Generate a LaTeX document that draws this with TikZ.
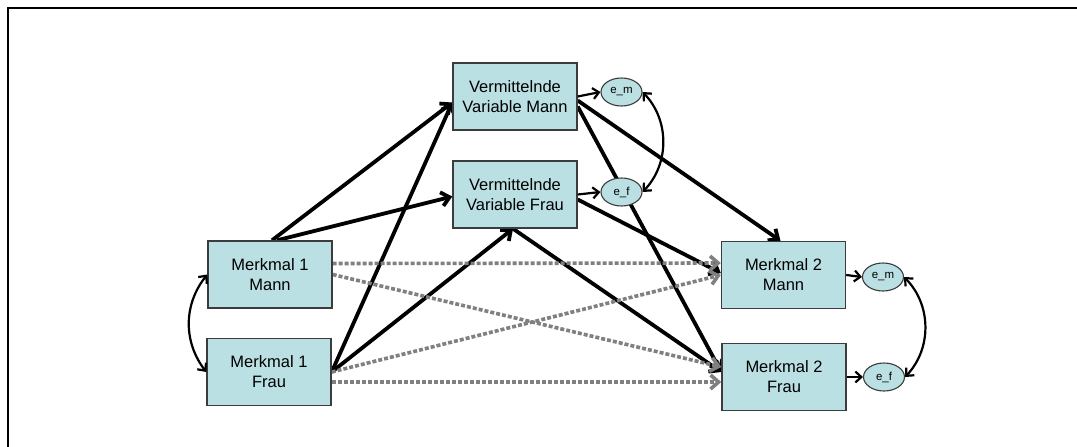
\documentclass[tikz,border=0pt]{standalone}
\usepackage{fontspec}
\setmainfont{Liberation Sans}
\usetikzlibrary{arrows.meta,shapes.geometric,backgrounds}
\definecolor{boxcyan}{RGB}{187,224,227}
\definecolor{boxrand}{RGB}{60,60,60}

\begin{document}
\begin{tikzpicture}[x=1pt,y=-1pt,
    box/.style={draw=boxrand, fill=boxcyan, line width=1.4pt, minimum width=124pt,
      minimum height=67pt, align=center, inner sep=0pt,
      font=\fontsize{16.5}{20}\selectfont},
    err/.style={ellipse, draw=boxrand, fill=boxcyan, line width=1.1pt, minimum width=41pt,
      minimum height=28pt, inner sep=0pt, font=\fontsize{11.5}{13}\selectfont},
    pfad/.style={line width=3.8pt, -{Straight Barb[length=8pt,width=14pt]}},
    grau/.style={line width=3.6pt, black!50, dash pattern=on 4pt off 2pt,
      -{Straight Barb[length=8pt,width=14pt]}},
    kurz/.style={line width=2.2pt, -{Straight Barb[length=6pt,width=11pt]}},
    kov/.style={line width=2.2pt, {Straight Barb[length=6pt,width=11pt]}-{Straight Barb[length=6pt,width=11pt]}}]

    \useasboundingbox (0,0) rectangle (1077,447);

    % Rahmen
    \draw[line width=2pt] (1077,7.5) -- (7.5,7.5) -- (7.5,447);

    % Merkmal 1
    \node[box] (m1m) at (270,274.5) {Merkmal 1\\Mann};
    \node[box] (m1f) at (269,372) {Merkmal 1\\Frau};

    % Vermittelnde Variablen
    \node[box] (vvm) at (515,96.5) {Vermittelnde\\Variable Mann};
    \node[box] (vvf) at (515,194.5) {Vermittelnde\\Variable Frau};

    % Merkmal 2
    \node[box] (m2m) at (783.5,275) {Merkmal 2\\Mann};
    \node[box] (m2f) at (784,377) {Merkmal 2\\Frau};

    % Fehlerterme
    \node[err] (em1) at (621.5,92) {e\_m};
    \node[err] (ef1) at (621.5,192) {e\_f};
    \node[err] (em2) at (883,277) {e\_m};
    \node[err] (ef2) at (884,377) {e\_f};

    \begin{scope}[on background layer]
    % Pfade zu den Vermittlern
    \draw[pfad] ([xshift=2pt]m1m.north) -- ([yshift=-6pt]vvm.west);
    \draw[pfad] ([xshift=7pt]m1m.north) -- ([yshift=-2pt]vvf.west);
    \draw[pfad] (m1f.east) -- ([yshift=-6pt]vvm.west);
    \draw[pfad] (m1f.east) -- ([xshift=-2pt]vvf.south);

    % Pfade zu Merkmal 2
    \draw[pfad] ([yshift=-4pt]vvm.east) -- ([xshift=-3pt]m2m.north);
    \draw[pfad] ([yshift=-10pt]vvm.east) -- ([yshift=5pt]m2f.west);
    \draw[pfad] ([yshift=-5pt]vvf.east) -- ([yshift=2pt]m2m.west);
    \draw[pfad] ([xshift=-2pt]vvf.south) -- ([yshift=5pt]m2f.west);

    % direkte Pfade (gestrichelt)
    \draw[grau] ([yshift=11pt]m1m.east) -- ([yshift=12pt]m2m.west);
    \draw[grau] (m1m.east) -- ([yshift=10pt]m2f.west);
    \draw[grau] (m1f.east) -- (m2m.west);
    \draw[grau] ([yshift=-10pt]m1f.east) -- ([yshift=-5pt]m2f.west);
    \end{scope}

    % Residuen
    \draw[kurz] (vvm.east) -- (em1.west);
    \draw[kurz] (vvf.east) -- (ef1.west);
    \draw[kurz] (m2m.east) -- (em2.west);
    \draw[kurz] (m2f.east) -- (ef2.west);

    % Kovarianzen
    \draw[kov] (m1m.west) to[bend right=38] (m1f.west);
    \draw[kov] (em1.east) to[bend left=44] (ef1.east);
    \draw[kov] (em2.east) to[bend left=44] (ef2.east);
\end{tikzpicture}
\end{document}
